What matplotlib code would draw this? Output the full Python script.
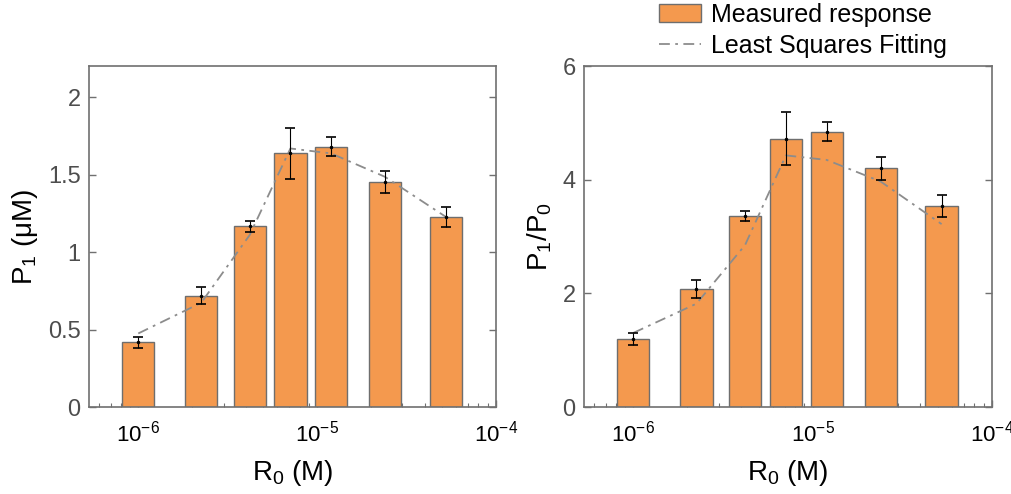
import numpy as np
import matplotlib.pyplot as plt
from matplotlib.ticker import LogLocator, NullFormatter

# concentrations R0 (M)
r0 = [1.0e-6, 2.25e-6, 4.2e-6, 7.1e-6, 1.2e-5, 2.4e-5, 5.25e-5]

# left panel: P1 (uM)
p1 = [0.417, 0.72, 1.166, 1.637, 1.68, 1.454, 1.226]
p1_err = [0.035, 0.055, 0.034, 0.163, 0.06, 0.07, 0.065]
p1_fit = [0.475, 0.673, 1.11, 1.669, 1.637, 1.486, 1.228]

# right panel: P1/P0
ratio = [1.205, 2.08, 3.363, 4.726, 4.85, 4.2, 3.54]
ratio_err = [0.105, 0.158, 0.096, 0.468, 0.17, 0.205, 0.19]
ratio_fit = [1.305, 1.82, 2.85, 4.43, 4.35, 3.97, 3.22]

plt.rcParams['font.family'] = ['Liberation Sans', 'DejaVu Sans']
plt.rcParams['mathtext.fontset'] = 'custom'
plt.rcParams['mathtext.rm'] = 'Liberation Sans'
plt.rcParams['mathtext.it'] = 'Liberation Sans'
plt.rcParams['mathtext.default'] = 'regular'

BAR_COLOR = '#F4994E'
EDGE = '#6e6e6e'
SPINE = '#707070'
TICKLBL = '#4d4d4d'
FIT = '#8c8c8c'


def panel(ax, y, yerr, yfit, ylim, yticks, ylabel):
    x = np.array(r0)
    half = 10 ** 0.09
    left = x / half
    width = x * half - left
    bars = ax.bar(left, y, width=width, align='edge', color=BAR_COLOR,
                  edgecolor=EDGE, linewidth=1.0, zorder=2)
    line, = ax.plot(x, yfit, color=FIT, lw=1.3, linestyle=(0, (6, 3, 1.5, 3)),
                    zorder=3)
    ax.errorbar(x, y, yerr=yerr, fmt='.', color='black', ms=3, lw=0.8,
                capsize=3.5, capthick=1.2, zorder=4)
    ax.set_xscale('log')
    ax.set_xlim(5.3e-7, 1e-4)
    ax.set_ylim(*ylim)
    ax.set_yticks(yticks)
    ax.set_yticklabels([f'{t:g}' for t in yticks])
    ax.xaxis.set_major_locator(LogLocator(base=10, numticks=10))
    ax.xaxis.set_minor_locator(LogLocator(base=10, subs=np.arange(2, 10), numticks=10))
    ax.xaxis.set_minor_formatter(NullFormatter())
    ax.tick_params(axis='x', which='major', direction='in', length=5, width=1,
                   color=SPINE, labelsize=16, labelcolor='black', pad=10, top=False)
    ax.tick_params(axis='x', which='minor', direction='in', length=3, width=0.8,
                   color=SPINE, top=False)
    ax.tick_params(axis='y', direction='in', length=5, width=1, color=SPINE,
                   labelsize=17, labelcolor=TICKLBL, right=True, pad=6)
    for s in ax.spines.values():
        s.set_color(SPINE)
        s.set_linewidth(1.2)
    ax.set_xlabel(r'R$_0$ (M)', fontsize=20, labelpad=8)
    ax.set_ylabel(ylabel, fontsize=20, labelpad=6)
    return bars, line


fig = plt.figure(figsize=(10.12, 4.94), dpi=100)
ax1 = fig.add_axes([0.0879, 0.176, 0.402, 0.690])
ax2 = fig.add_axes([0.577, 0.176, 0.403, 0.690])

panel(ax1, p1, p1_err, p1_fit, (0, 2.2), [0, 0.5, 1, 1.5, 2], r'P$_1$ (μM)')
bars, line = panel(ax2, ratio, ratio_err, ratio_fit, (0, 6), [0, 2, 4, 6], r'P$_1$/P$_0$')

fig.legend([bars, line], ['Measured response', 'Least Squares Fitting'],
           loc='upper left', bbox_to_anchor=(0.636, 1.025), frameon=False,
           fontsize=18, handlelength=1.7, handletextpad=0.4, labelspacing=0.3,
           borderpad=0.1)

fig.savefig('out.png', dpi=100)
